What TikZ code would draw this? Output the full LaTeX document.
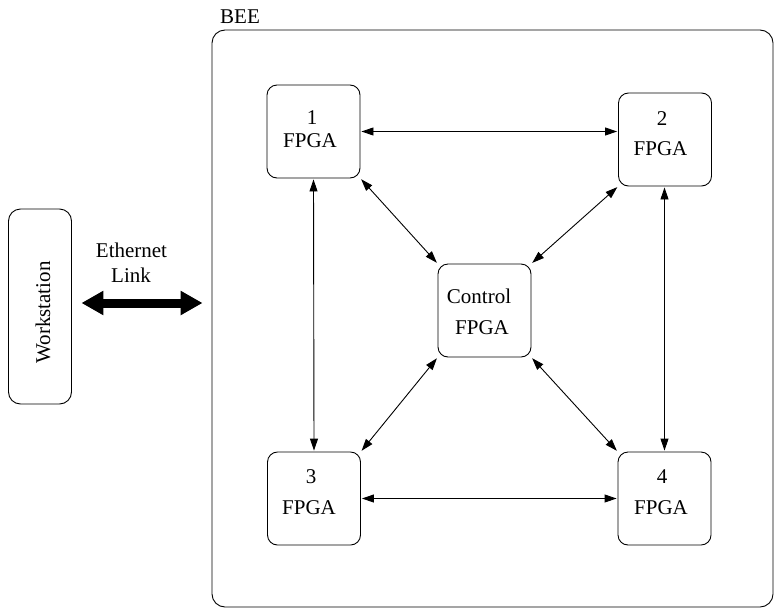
\documentclass[tikz,border=0pt]{standalone}
\usepackage{fontspec}
\setmainfont{Liberation Serif}
\usetikzlibrary{arrows.meta}
\tikzset{
  box/.style={draw, line width=0.9pt, rounded corners=10pt, inner sep=0pt},
  fpga/.style={box, minimum width=93pt, minimum height=93pt},
  txt/.style={inner sep=0pt, anchor=base, font=\fontsize{21}{25}\selectfont},
  link/.style={line width=0.9pt, {Triangle[length=12pt,width=8pt]}-{Triangle[length=12pt,width=8pt]}, shorten >=1pt, shorten <=1pt},
  fat/.style={line width=9pt, {Triangle[length=22pt,width=23pt]}-{Triangle[length=22pt,width=23pt]}}
}
\begin{document}
\begin{tikzpicture}[x=1pt,y=-1pt]
\useasboundingbox (0,0) rectangle (775,608);
% containers
\node[box, rounded corners=13pt, minimum width=561pt, minimum height=577pt] (bee) at (492.5,318.5) {};
\node[txt, anchor=base west] (beelbl) at (220,23) {BEE};
\node[box, rounded corners=12pt, minimum width=63pt, minimum height=195pt] (ws) at (40,306.5) {};
\node[txt, rotate=90] (wslbl) at (50,312.5) {Workstation};
% FPGA boxes
\node[fpga] (b1) at (313.5,131.5) {};
\node[fpga] (b2) at (665,139.5) {};
\node[fpga] (b3) at (314,498.5) {};
\node[fpga] (b4) at (664.5,498.5) {};
\node[fpga] (ctl) at (484.5,310.5) {};
% texts
\node[txt] (t1a) at (312,124) {1};
\node[txt] (t1b) at (310,147) {FPGA};
\node[txt] (t2a) at (662,125) {2};
\node[txt] (t2b) at (660.5,155) {FPGA};
\node[txt] (t3a) at (311,483) {3};
\node[txt] (t3b) at (309,514) {FPGA};
\node[txt] (t4a) at (662,483) {4};
\node[txt] (t4b) at (661,514) {FPGA};
\node[txt] (tca) at (479,303) {Control};
\node[txt] (tcb) at (482,334) {FPGA};
\node[txt] (eth1) at (131.5,257) {Ethernet};
\node[txt] (eth2) at (131,282) {Link};
% links
\draw[link] (b1.east) -- (b1.east -| b2.west);
\draw[link] (b3.east) -- (b4.west);
\draw[link] (b1.south) -- (b3.north);
\draw[link] (b2.south -| b4.north) -- (b4.north);
\draw[link] (b1.south east) -- (ctl.north west);
\draw[link] (b2.south west) -- (ctl.north east);
\draw[link] (b3.north east) -- (ctl.south west);
\draw[link] (b4.north west) -- (ctl.south east);
% ethernet link
\draw[fat, shorten <=9.5pt, shorten >=9pt] ([yshift=3.5pt]ws.east) -- ([yshift=3.5pt]ws.east -| bee.west);
\end{tikzpicture}
\end{document}
